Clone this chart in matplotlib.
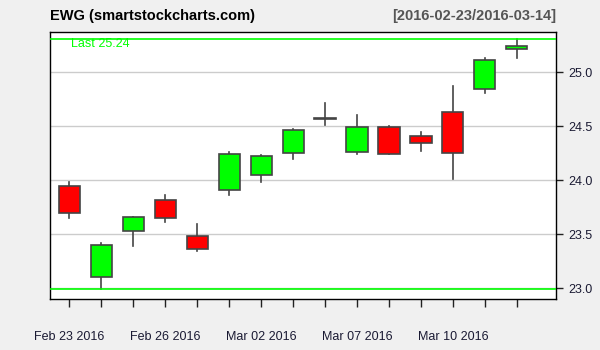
import numpy as np
import matplotlib.pyplot as plt
from matplotlib.patches import Rectangle

plt.rcParams['font.family'] = ['Liberation Sans', 'DejaVu Sans']

# daily OHLC for EWG, one entry per trading day
dates = ['Feb 23 2016', 'Feb 24 2016', 'Feb 25 2016', 'Feb 26 2016', 'Feb 29 2016',
         'Mar 01 2016', 'Mar 02 2016', 'Mar 03 2016', 'Mar 04 2016', 'Mar 07 2016',
         'Mar 08 2016', 'Mar 09 2016', 'Mar 10 2016', 'Mar 11 2016', 'Mar 14 2016']
opens = [23.95, 23.10, 23.53, 23.82, 23.48, 23.91, 24.05, 24.25, 24.57, 24.26,
         24.49, 24.41, 24.63, 24.84, 25.21]
highs = [23.98, 23.42, 23.66, 23.86, 23.59, 24.26, 24.23, 24.47, 24.71, 24.60,
         24.50, 24.45, 24.87, 25.13, 25.31]
lows = [23.65, 22.99, 23.39, 23.61, 23.34, 23.86, 23.98, 24.20, 24.51, 24.24,
        24.24, 24.27, 24.01, 24.81, 25.13]
closes = [23.70, 23.40, 23.66, 23.65, 23.36, 24.24, 24.22, 24.46, 24.57, 24.49,
          24.24, 24.34, 24.25, 25.11, 25.24]
label_days = [0, 3, 6, 9, 12]
yticks = [23.0, 23.5, 24.0, 24.5, 25.0]

fig = plt.figure(figsize=(6, 3.5), dpi=100, facecolor='#f0f0f0')
ax = fig.add_axes([0.084, 0.146, 0.843, 0.763])
ax.set_facecolor('white')

edge = '#444444'
width = 0.66
for i in range(len(dates)):
    o, h, l, c = opens[i], highs[i], lows[i], closes[i]
    col = '#00ff00' if c >= o else '#ff0000'
    ax.plot([i, i], [l, h], color=edge, lw=1.2, zorder=2)
    bottom = min(o, c)
    height = max(abs(c - o), 0.004)
    ax.add_patch(Rectangle((i - width / 2, bottom), width, height,
                           facecolor=col, edgecolor=edge, lw=1.2, zorder=3))

# range lines
ax.axhline(max(highs), color='#00ff00', lw=1.2, zorder=4)
ax.axhline(min(lows), color='#00ff00', lw=1.2, zorder=4)
ax.text(0.05, max(highs) - 0.05, f'Last {closes[-1]:.2f}', color='#00ff00',
        fontsize=9, va='center', ha='left', zorder=5)

ax.set_xlim(-0.59, 15.23)
ax.set_ylim(22.90, 25.373)
ax.set_yticks(yticks)
ax.set_yticklabels([f'{v:.1f}' for v in yticks])
ax.yaxis.tick_right()
ax.grid(axis='y', color='#cccccc', lw=1.0, zorder=0)
ax.set_axisbelow(True)

ax.set_xticks(range(len(dates)))
ax.set_xticklabels([d if i in label_days else '' for i, d in enumerate(dates)])
ax.tick_params(axis='x', length=6, width=1, color='#222222', pad=17,
               labelsize=9, labelcolor='#1a1a33')
ax.tick_params(axis='y', length=5, width=1, color='#222222', pad=4,
               labelsize=9, labelcolor='#1a1a33')
for s in ax.spines.values():
    s.set_color('black')
    s.set_linewidth(1.0)

fig.text(0.084, 0.955, 'EWG (smartstockcharts.com)', fontsize=10.5,
         fontweight='bold', ha='left', va='center')
fig.text(0.927, 0.955, '[2016-02-23/2016-03-14]', fontsize=10.5,
         fontweight='bold', ha='right', va='center', color='#555555')

fig.savefig('out.png', dpi=100, facecolor=fig.get_facecolor())
